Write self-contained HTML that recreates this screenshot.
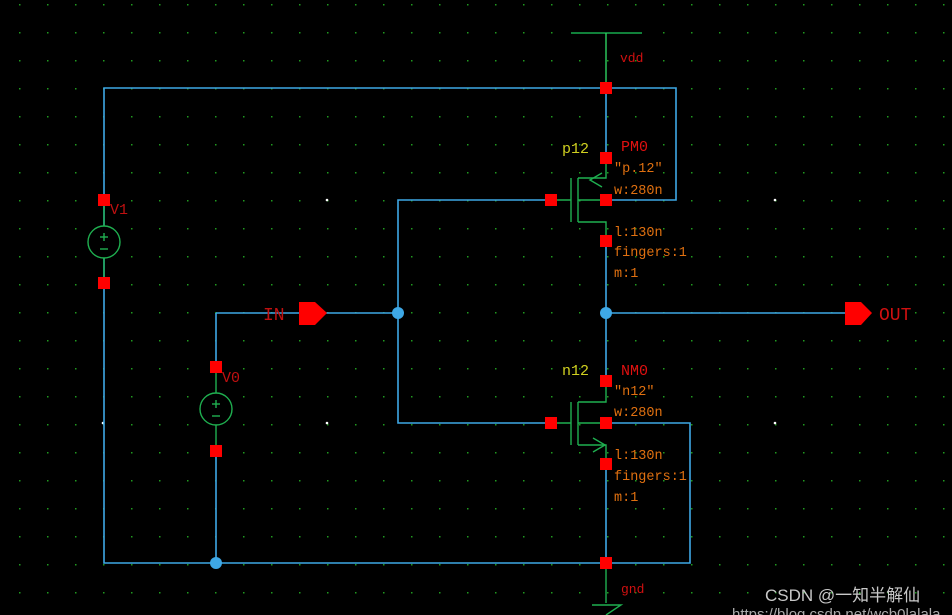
<!DOCTYPE html>
<html><head><style>body{margin:0;background:#000}svg{display:block}</style></head><body>
<svg width="952" height="615" viewBox="0 0 952 615" xmlns="http://www.w3.org/2000/svg" font-family="Liberation Sans, sans-serif">
<defs><pattern id="g" x="19" y="4" width="28" height="28" patternUnits="userSpaceOnUse"><rect x="0" y="0" width="1.5" height="1.5" fill="#1f9a1f"/></pattern></defs>
<rect width="952" height="615" fill="#000"/>
<rect width="952" height="615" fill="url(#g)"/>
<g fill="#fff"><circle cx="327" cy="200" r="1.3"/><circle cx="327" cy="423" r="1.3"/><circle cx="775" cy="200" r="1.3"/><circle cx="775" cy="423" r="1.3"/><circle cx="103" cy="423" r="1.3"/></g>
<g stroke="#3ea8e6" stroke-width="1.6" fill="none">
<polyline points="606,88 104,88 104,563 690,563 690,423 606,423"/>
<polyline points="606,88 676,88 676,200 606,200"/>
<line x1="606" y1="88" x2="606" y2="158"/>
<line x1="606" y1="241" x2="606" y2="381"/>
<line x1="606" y1="464" x2="606" y2="563"/>
<polyline points="551,200 398,200 398,423 551,423"/>
<line x1="216" y1="313" x2="398" y2="313"/>
<line x1="216" y1="313" x2="216" y2="367"/>
<line x1="216" y1="451" x2="216" y2="563"/>
<line x1="606" y1="313" x2="845" y2="313"/>
</g>
<g stroke="#1fb050" stroke-width="1.4" fill="none">
<line x1="571" y1="33" x2="642" y2="33" stroke="#11803a" stroke-width="2"/>
<line x1="606" y1="33" x2="606" y2="88" stroke="#2ed060"/>
<line x1="606" y1="563" x2="606" y2="603"/>
<polyline points="592,605 621,605 606,615"/>
<line x1="551" y1="200" x2="571" y2="200"/><line x1="571" y1="178" x2="571" y2="222"/><line x1="578" y1="178" x2="578" y2="222"/>
<polyline points="606,158 606,178 578,178"/><polyline points="578,222 606,222 606,241"/><line x1="578" y1="200" x2="606" y2="200"/>
<polyline points="602,173 590,180 602,187"/>
<line x1="551" y1="423" x2="571" y2="423"/><line x1="571" y1="402" x2="571" y2="445"/><line x1="578" y1="402" x2="578" y2="445"/>
<polyline points="606,381 606,402 578,402"/><polyline points="578,445 606,445 606,464"/><line x1="578" y1="423" x2="606" y2="423"/>
<polyline points="593,438 605,445 593,452"/>
<line x1="104" y1="200" x2="104" y2="283"/><circle cx="104" cy="242" r="16" fill="#000"/>
<line x1="104" y1="233" x2="104" y2="241"/><line x1="100" y1="237" x2="108" y2="237"/><line x1="100" y1="249" x2="108" y2="249"/>
<line x1="216" y1="367" x2="216" y2="451"/><circle cx="216" cy="409" r="16" fill="#000"/>
<line x1="216" y1="400" x2="216" y2="408"/><line x1="212" y1="404" x2="220" y2="404"/><line x1="212" y1="416" x2="220" y2="416"/>
</g>
<g fill="#f00">
<rect x="600" y="82" width="12" height="12"/><rect x="600" y="152" width="12" height="12"/><rect x="600" y="194" width="12" height="12"/><rect x="600" y="235" width="12" height="12"/><rect x="545" y="194" width="12" height="12"/>
<rect x="600" y="375" width="12" height="12"/><rect x="600" y="417" width="12" height="12"/><rect x="600" y="458" width="12" height="12"/><rect x="545" y="417" width="12" height="12"/>
<rect x="600" y="557" width="12" height="12"/>
<rect x="98" y="194" width="12" height="12"/><rect x="98" y="277" width="12" height="12"/>
<rect x="210" y="361" width="12" height="12"/><rect x="210" y="445" width="12" height="12"/>
<polygon points="299,302 315,302 327,313 315,325 299,325"/>
<polygon points="845,302 861,302 872,313 861,325 845,325"/>
</g>
<g fill="#3ea8e6"><circle cx="398" cy="313" r="6"/><circle cx="606" cy="313" r="6"/><circle cx="216" cy="563" r="6"/></g>
<g font-size="14" font-family="Liberation Mono, monospace">
<text x="620" y="62" fill="#d01010" font-size="13">vdd</text>
<text x="621" y="593" fill="#d01010" font-size="13">gnd</text>
<text x="110" y="214" fill="#c01010" font-size="15">V1</text>
<text x="222" y="382" fill="#c01010" font-size="15">V0</text>
<text x="263" y="320" fill="#c01010" font-size="18">IN</text>
<text x="879" y="320" fill="#d01010" font-size="18">OUT</text>
<text x="562" y="153" fill="#d0d020" font-size="15">p12</text>
<text x="621" y="151" fill="#e01010" font-size="15">PM0</text>
<text x="562" y="375" fill="#d0d020" font-size="15">n12</text>
<text x="621" y="375" fill="#e01010" font-size="15">NM0</text>
<g fill="#e07010" font-size="13.5">
<text x="614" y="172">"p.12"</text><text x="614" y="194">w:280n</text><text x="614" y="236">l:130n</text><text x="614" y="256">fingers:1</text><text x="614" y="277">m:1</text>
<text x="614" y="395">"n12"</text><text x="614" y="416">w:280n</text><text x="614" y="459">l:130n</text><text x="614" y="480">fingers:1</text><text x="614" y="501">m:1</text>
</g>
<text x="765" y="601" fill="#c8c8c8" font-size="17" font-family="Liberation Sans, Noto Sans CJK SC, sans-serif">CSDN @一知半解仙</text>
<text x="732" y="619" fill="#aaa" font-size="15" font-family="Liberation Sans, sans-serif">https://blog.csdn.net/wcb0lalala</text>
</g>
</svg>
</body></html>
